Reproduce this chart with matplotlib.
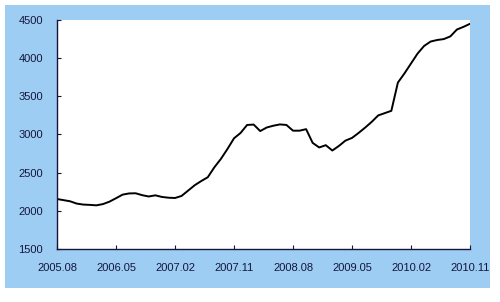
import numpy as np
import matplotlib.pyplot as plt
from matplotlib.patches import Rectangle

# Monthly index values, 2005.08 .. 2010.11
values = [2155, 2140, 2125, 2095, 2082, 2078, 2072, 2088, 2120, 2165,
          2212, 2228, 2230, 2205, 2188, 2203, 2182, 2172, 2168, 2195,
          2265, 2335, 2390, 2440, 2570, 2680, 2810, 2950, 3020, 3125,
          3130, 3045, 3092, 3115, 3132, 3125, 3050, 3050, 3070, 2890,
          2830, 2860, 2790, 2850, 2920, 2955, 3020, 3090, 3165, 3250,
          3280, 3310, 3680, 3800, 3930, 4060, 4160, 4218, 4238, 4250,
          4285, 4375, 4410, 4450]
tick_labels = ['2005.08', '2006.05', '2007.02', '2007.11',
               '2008.08', '2009.05', '2010.02', '2010.11']
y_ticks = [1500, 2000, 2500, 3000, 3500, 4000, 4500]

months = np.arange(len(values))
tick_pos = np.arange(0, len(values), 9)

navy = '#14163c'
plt.rcParams['font.family'] = ['Liberation Sans', 'DejaVu Sans']

fig = plt.figure(figsize=(5.0, 3.02), dpi=100)
fig.patch.set_facecolor('white')
# light blue frame behind the plot
fig.patches.append(Rectangle((0.01, 0.0464), 0.97, 0.937, transform=fig.transFigure,
                             facecolor='#9ecdf4', edgecolor='none', zorder=-1))

ax = fig.add_axes([0.114, 0.1755, 0.826, 0.7583])
ax.set_facecolor('white')
ax.plot(months, values, color='black', lw=1.4)

ax.set_xlim(0, len(values) - 1)
ax.set_ylim(1500, 4500)
ax.set_xticks(tick_pos)
ax.set_xticklabels(tick_labels)
ax.set_yticks(y_ticks)

for side in ['top', 'right']:
    ax.spines[side].set_visible(False)
for side in ['left', 'bottom']:
    ax.spines[side].set_color(navy)
    ax.spines[side].set_linewidth(1.0)

ax.tick_params(direction='in', length=3, width=0.8, color=navy,
               labelcolor=navy, labelsize=8, pad=10)

fig.savefig('out.png', dpi=100)
